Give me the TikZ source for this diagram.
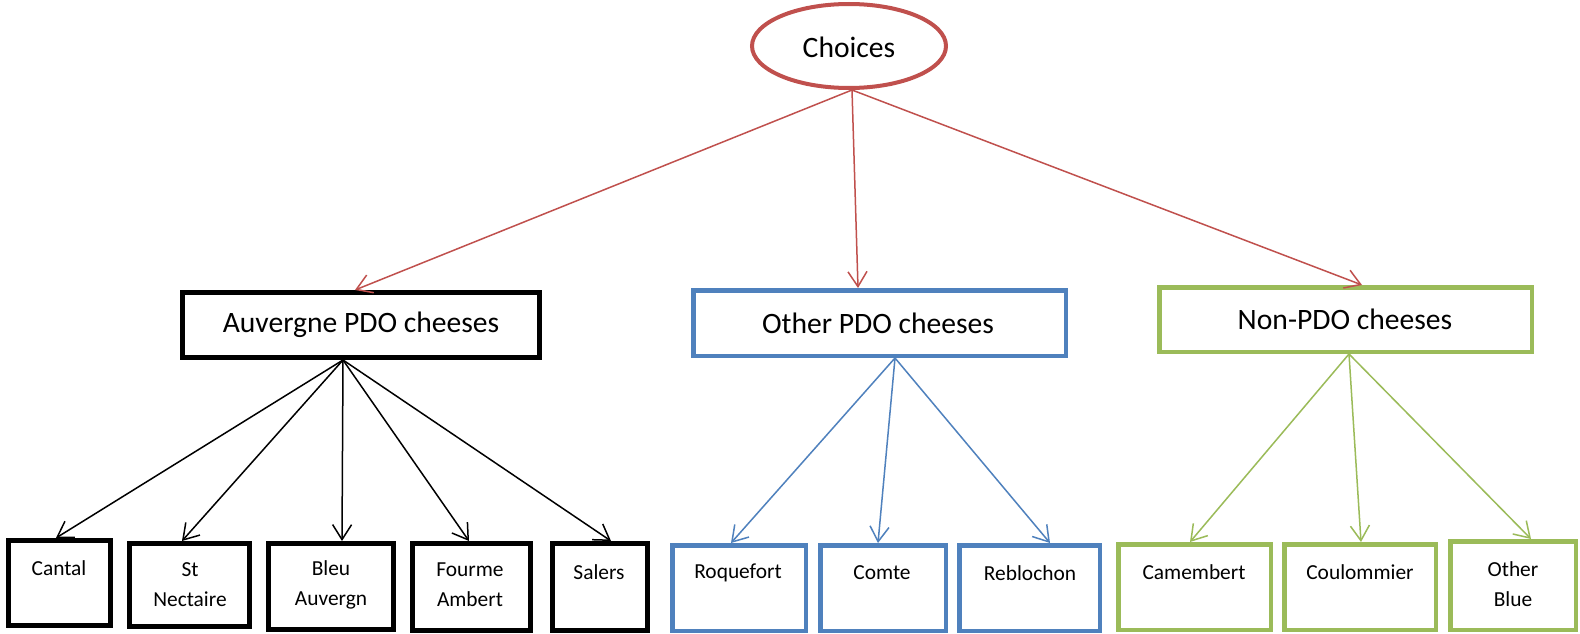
\documentclass[tikz,border=0pt]{standalone}
\usepackage{fontspec}
\setmainfont{Carlito}
\usetikzlibrary{arrows.meta,shapes.geometric}
\definecolor{cred}{HTML}{C0504D}
\definecolor{cblue}{HTML}{4F81BD}
\definecolor{cgreen}{HTML}{9BBB59}
\tikzset{
  box/.style={draw,rectangle,inner sep=0pt,fill=white},
  blackbox/.style={box,draw=black,line width=5pt},
  bluebox/.style={box,draw=cblue,line width=4.5pt},
  greenbox/.style={box,draw=cgreen,line width=4.5pt},
  midtext/.style={font=\fontsize{29.6}{35}\selectfont,inner sep=0pt},
  smalltext/.style={font=\fontsize{21.4}{30}\selectfont,align=center,inner sep=0pt},
  conn/.style={line width=1.5pt,-{Straight Barb[length=15pt,width=19pt]}},
  redarrow/.style={conn,draw=cred},
  blackarrow/.style={conn,draw=black},
  bluearrow/.style={conn,draw=cblue},
  greenarrow/.style={conn,draw=cgreen},
}
\begin{document}
\begin{tikzpicture}[x=1pt,y=-1pt]
\useasboundingbox[fill=white] (0,0) rectangle (1580,634);
% top
\node[ellipse,draw=cred,line width=4pt,minimum width=194pt,minimum height=84pt,inner sep=0pt] (choices) at (849,46) {};
\node[midtext] (choicest) at (849,47) {Choices};
% middle boxes
\node[blackbox,minimum width=357pt,minimum height=65pt] (auv) at (361,325) {};
\node[midtext] (auvt) at (361,325) {Auvergne PDO cheeses};
\node[bluebox,minimum width=372.5pt,minimum height=65.5pt] (oth) at (879.5,323) {};
\node[midtext] (otht) at (878,323) {Other PDO cheeses};
\node[greenbox,minimum width=372.5pt,minimum height=64.5pt] (non) at (1345.5,319.5) {};
\node[midtext] (nont) at (1345,319) {Non-PDO cheeses};
% bottom black
\node[blackbox,minimum width=102pt,minimum height=85pt] (cantal) at (59.5,583) {};
\node[smalltext] (cantalt) at (59,568) {Cantal};
\node[blackbox,minimum width=120pt,minimum height=83pt] (stn) at (189.5,585) {};
\node[smalltext] (stnt) at (190,584.5) {St\\Nectaire};
\node[blackbox,minimum width=125pt,minimum height=86pt] (bleu) at (331,586.5) {};
\node[smalltext] (bleut) at (331,584.5) {Bleu\\Auvergn};
\node[blackbox,minimum width=118pt,minimum height=87pt] (fourme) at (471.5,587) {};
\node[smalltext] (fourmet) at (470,584.5) {Fourme\\Ambert};
\node[blackbox,minimum width=95pt,minimum height=87pt] (salers) at (600,587) {};
\node[smalltext] (salerst) at (599,572) {Salers};
% bottom blue
\node[bluebox,minimum width=133.5pt,minimum height=85.5pt] (roq) at (739,588) {};
\node[smalltext] (roqt) at (738,573) {Roquefort};
\node[bluebox,minimum width=125.5pt,minimum height=85.5pt] (comte) at (883,588) {};
\node[smalltext] (comtet) at (882,573) {Comte};
\node[bluebox,minimum width=140.5pt,minimum height=85.5pt] (rebl) at (1029.5,588) {};
\node[smalltext] (reblt) at (1030,573) {Reblochon};
% bottom green
\node[greenbox,minimum width=152.5pt,minimum height=85.5pt] (cam) at (1194.5,587) {};
\node[smalltext] (camt) at (1194,572) {Camembert};
\node[greenbox,minimum width=151.5pt,minimum height=85.5pt] (coul) at (1360,587) {};
\node[smalltext] (coult) at (1360,572) {Coulommier};
\node[greenbox,minimum width=125.5pt,minimum height=88.5pt] (oblue) at (1513,585.5) {};
\node[smalltext] (obluet) at (1513,584) {Other\\Blue};
% red connectors
\draw[redarrow] ([xshift=3pt]choices.south) -- ([xshift=-6pt]auv.north);
\draw[redarrow] ([xshift=3pt]choices.south) -- ([xshift=-21.5pt]oth.north);
\draw[redarrow] ([xshift=3pt]choices.south) -- ([xshift=16.5pt]non.north);
% black connectors
\draw[blackarrow] ([xshift=-18pt]auv.south) -- ([xshift=-3.5pt]cantal.north);
\draw[blackarrow] ([xshift=-18pt]auv.south) -- ([xshift=-7.5pt]stn.north);
\draw[blackarrow] ([xshift=-18pt]auv.south) -- ([xshift=11pt]bleu.north);
\draw[blackarrow] ([xshift=-18pt]auv.south) -- ([xshift=-2.5pt]fourme.north);
\draw[blackarrow] ([xshift=-18pt]auv.south) -- ([xshift=11pt]salers.north);
% blue connectors
\draw[bluearrow] ([xshift=15.5pt]oth.south) -- ([xshift=-8pt]roq.north);
\draw[bluearrow] ([xshift=15.5pt]oth.south) -- ([xshift=-5pt]comte.north);
\draw[bluearrow] ([xshift=15.5pt]oth.south) -- ([xshift=20.5pt]rebl.north);
% green connectors
\draw[greenarrow] ([xshift=3.5pt]non.south) -- ([xshift=-4.5pt]cam.north);
\draw[greenarrow] ([xshift=3.5pt]non.south) -- ([xshift=1pt]coul.north);
\draw[greenarrow] ([xshift=3.5pt]non.south) -- ([xshift=18pt]oblue.north);
\end{tikzpicture}
\end{document}
